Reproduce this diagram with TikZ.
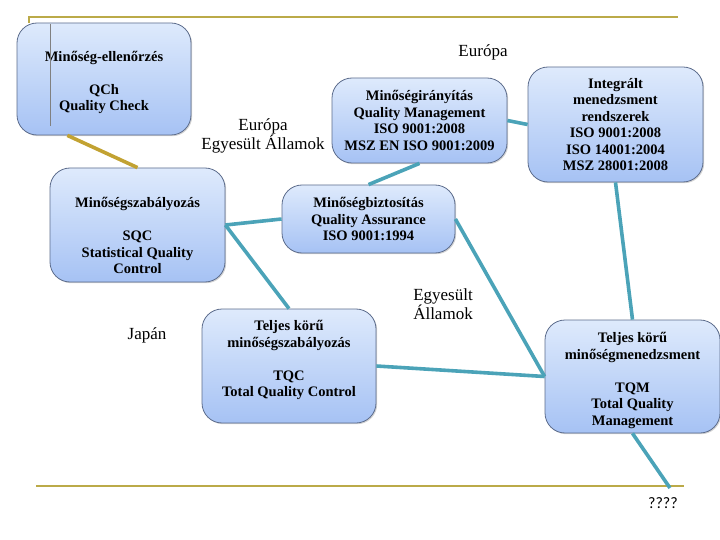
\documentclass[tikz,border=0pt]{standalone}
\usepackage{fontspec}
\setmainfont{Liberation Serif}
\newfontfamily\calib{Carlito}
\usetikzlibrary{shadows}
\definecolor{boxtop}{HTML}{DEEAFC}
\definecolor{boxbot}{HTML}{A6C2F4}
\definecolor{boxline}{HTML}{5C6C8C}
\definecolor{teal}{HTML}{4BA3B8}
\definecolor{goldc}{HTML}{C2A232}
\definecolor{olive}{HTML}{BBAA48}
\tikzset{
  box/.style={rectangle, rounded corners=20pt, draw=boxline, line width=0.8pt,
    top color=boxtop, bottom color=boxbot, align=center, inner sep=2pt,
    font=\fontsize{14.5}{16.5}\selectfont\bfseries,
    drop shadow={shadow xshift=1.2pt, shadow yshift=-1.2pt, opacity=0.35}},
  lbl/.style={align=center, font=\fontsize{17}{19}\selectfont, inner sep=0pt},
  conn/.style={draw=teal, line width=3.6pt},
  gconn/.style={draw=goldc, line width=3.6pt},
  rule/.style={draw=olive, line width=2pt}
}
\begin{document}
\begin{tikzpicture}[x=1pt,y=-1pt]
\useasboundingbox (0,0) rectangle (720,540);
% boxes
\node[box, minimum width=174pt, minimum height=112pt] (b1) at (104,79)
  {\rule{0pt}{17pt}Minőség-ellenőrzés\\~\\QCh\\Quality Check};
\node[box, minimum width=175pt, minimum height=114pt] (b2) at (137.5,225)
  {\rule{0pt}{32pt}Minőségszabályozás\\~\\SQC\\Statistical Quality\\Control};
\node[box, minimum width=173pt, minimum height=68pt] (bz) at (368.5,219)
  {Minőségbiztosítás\\Quality Assurance\\ISO 9001:1994};
\node[box, minimum width=175pt, minimum height=85pt] (mi) at (419.5,120.5)
  {Minőségirányítás\\Quality Management\\ISO 9001:2008\\MSZ EN ISO 9001:2009};
\node[box, minimum width=175pt, minimum height=115pt] (int) at (615.5,124.5)
  {Integrált\\menedzsment\\rendszerek\\ISO 9001:2008\\ISO 14001:2004\\MSZ 28001:2008};
\node[box, minimum width=174pt, minimum height=114pt] (tqc) at (289,366)
  {Teljes körű\\minőségszabályozás\\~\\TQC\\Total Quality Control\rule[-15pt]{0pt}{15pt}};
\node[box, minimum width=175pt, minimum height=113pt] (tqm) at (632.5,376.5)
  {\rule{0pt}{18pt}Teljes körű\\minőségmenedzsment\\~\\TQM\\Total Quality\\Management};
% thin grey line inside first box
\draw[gray, line width=0.6pt] (50,24) -- (50,126);
% labels
\node[lbl] (eu1) at (483,52) {Európa};
\node[lbl] (euus) at (263,136) {Európa\\Egyesült Államok};
\node[lbl] (jp) at (147,335) {Japán};
\node[lbl] (us) at (443,304) {Egyesült\\Államok};
\node[font=\calib\fontsize{16}{18}\selectfont, inner sep=0pt] (qq) at (663,503) {????};
% rules
\coordinate (t0) at (29,23);
\coordinate (t1) at (29,17);
\coordinate (t2) at (678,17);
\draw[rule] (t0) -- (t1) -- (t2);
\coordinate (r0) at (36,486);
\coordinate (r1) at (684,486);
\draw[rule] (r0) -- (r1);
\coordinate (qend) at (670,488);
% connectors
\draw[gconn] (b1.237) -- (b2.north);
\draw[conn] (b2.east) -- (bz.west);
\draw[conn] (b2.east) -- (tqc.north);
\draw[conn] (bz.north) -- (mi.south);
\draw[conn] (mi.east) -- (int.west);
\draw[conn] (int.south) -- (tqm.north);
\draw[conn] (bz.east) -- (tqm.west);
\draw[conn] (tqc.east) -- (tqm.west);
\draw[conn] (tqm.south) -- (qend);
\end{tikzpicture}
\end{document}
